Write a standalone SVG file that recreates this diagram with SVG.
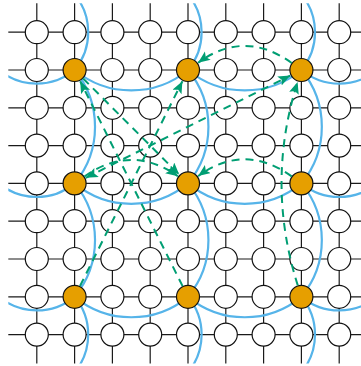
<svg xmlns="http://www.w3.org/2000/svg" width="361" height="366" viewBox="0 0 361 366">
<defs>
<style>
.grid line{stroke:#1a1a1a;stroke-width:1.2}
.n{fill:#fff;stroke:#111;stroke-width:1.2}
.o{fill:#E69F00;stroke:#111;stroke-width:1.2}
.arc path{fill:none;stroke:#56B4E9;stroke-width:2.2}
.fl path{fill:none;stroke:#009E73;stroke-width:2;stroke-dasharray:8 6;marker-end:url(#ah)}
.fl path.both{marker-start:url(#ah)}
</style>
<clipPath id="clip"><rect x="8.3" y="3.3" width="360" height="360.2"/></clipPath>
<marker id="ah" markerUnits="userSpaceOnUse" markerWidth="14" markerHeight="12" refX="12" refY="5" orient="auto-start-reverse">
<path d="M0,0 L12,5 L0,10 L2.5,5 z" fill="#009E73"/>
</marker>
</defs>
<g class="grid" id="grid">
<line x1="8.3" y1="32.2" x2="361" y2="32.2"/>
<line x1="8.3" y1="70" x2="361" y2="70"/>
<line x1="8.3" y1="107.8" x2="361" y2="107.8"/>
<line x1="8.3" y1="145.6" x2="361" y2="145.6"/>
<line x1="8.3" y1="183.4" x2="361" y2="183.4"/>
<line x1="8.3" y1="221.2" x2="361" y2="221.2"/>
<line x1="8.3" y1="259" x2="361" y2="259"/>
<line x1="8.3" y1="296.8" x2="361" y2="296.8"/>
<line x1="8.3" y1="334.6" x2="361" y2="334.6"/>
<line x1="36.8" y1="3.3" x2="36.8" y2="363.5"/>
<line x1="74.6" y1="3.3" x2="74.6" y2="363.5"/>
<line x1="112.4" y1="3.3" x2="112.4" y2="363.5"/>
<line x1="150.2" y1="3.3" x2="150.2" y2="363.5"/>
<line x1="188" y1="3.3" x2="188" y2="363.5"/>
<line x1="225.8" y1="3.3" x2="225.8" y2="363.5"/>
<line x1="263.6" y1="3.3" x2="263.6" y2="363.5"/>
<line x1="301.4" y1="3.3" x2="301.4" y2="363.5"/>
<line x1="339.2" y1="3.3" x2="339.2" y2="363.5"/>
</g>
<g class="arc" id="regions" clip-path="url(#clip)">
<path d="M-1,70 A59.3,59.3 0 0 0 74.6,70 A88.9,88.9 0 0 0 188,70 A88.9,88.9 0 0 0 301.4,70 A59.3,59.3 0 0 0 377,70"/>
<path d="M-1,183.4 A59.3,59.3 0 0 0 74.6,183.4 A88.9,88.9 0 0 0 188,183.4 A88.9,88.9 0 0 0 301.4,183.4 A59.3,59.3 0 0 0 377,183.4"/>
<path d="M-1,296.8 A59.3,59.3 0 0 0 74.6,296.8 A88.9,88.9 0 0 0 188,296.8 A88.9,88.9 0 0 0 301.4,296.8 A59.3,59.3 0 0 0 377,296.8"/>
<path d="M74.6,-5.6 A59.3,59.3 0 0 1 74.6,70 A88.9,88.9 0 0 1 74.6,183.4 A88.9,88.9 0 0 1 74.6,296.8 A59.3,59.3 0 0 1 74.6,372.4"/>
<path d="M188,-5.6 A59.3,59.3 0 0 1 188,70 A88.9,88.9 0 0 1 188,183.4 A88.9,88.9 0 0 1 188,296.8 A59.3,59.3 0 0 1 188,372.4"/>
<path d="M301.4,-5.6 A59.3,59.3 0 0 1 301.4,70 A88.9,88.9 0 0 1 301.4,183.4 A88.9,88.9 0 0 1 301.4,296.8 A59.3,59.3 0 0 1 301.4,372.4"/>
</g>
<g id="nodes">
<g id="r0"><circle class="n" cx="36.8" cy="32.2" r="11.5"/><circle class="n" cx="74.6" cy="32.2" r="11.5"/><circle class="n" cx="112.4" cy="32.2" r="11.5"/><circle class="n" cx="150.2" cy="32.2" r="11.5"/><circle class="n" cx="188" cy="32.2" r="11.5"/><circle class="n" cx="225.8" cy="32.2" r="11.5"/><circle class="n" cx="263.6" cy="32.2" r="11.5"/><circle class="n" cx="301.4" cy="32.2" r="11.5"/><circle class="n" cx="339.2" cy="32.2" r="11.5"/></g>
<g id="r1"><circle class="n" cx="36.8" cy="70" r="11.5"/><circle class="o" id="s11" cx="74.6" cy="70" r="11.5"/><circle class="n" cx="112.4" cy="70" r="11.5"/><circle class="n" cx="150.2" cy="70" r="11.5"/><circle class="o" id="s14" cx="188" cy="70" r="11.5"/><circle class="n" cx="225.8" cy="70" r="11.5"/><circle class="n" cx="263.6" cy="70" r="11.5"/><circle class="o" id="s17" cx="301.4" cy="70" r="11.5"/><circle class="n" cx="339.2" cy="70" r="11.5"/></g>
<g id="r2"><circle class="n" cx="36.8" cy="107.8" r="11.5"/><circle class="n" cx="74.6" cy="107.8" r="11.5"/><circle class="n" cx="112.4" cy="107.8" r="11.5"/><circle class="n" cx="150.2" cy="107.8" r="11.5"/><circle class="n" cx="188" cy="107.8" r="11.5"/><circle class="n" cx="225.8" cy="107.8" r="11.5"/><circle class="n" cx="263.6" cy="107.8" r="11.5"/><circle class="n" cx="301.4" cy="107.8" r="11.5"/><circle class="n" cx="339.2" cy="107.8" r="11.5"/></g>
<g id="r3"><circle class="n" cx="36.8" cy="145.6" r="11.5"/><circle class="n" cx="74.6" cy="145.6" r="11.5"/><circle class="n" cx="112.4" cy="145.6" r="11.5"/><circle class="n" cx="150.2" cy="145.6" r="11.5"/><circle class="n" cx="188" cy="145.6" r="11.5"/><circle class="n" cx="225.8" cy="145.6" r="11.5"/><circle class="n" cx="263.6" cy="145.6" r="11.5"/><circle class="n" cx="301.4" cy="145.6" r="11.5"/><circle class="n" cx="339.2" cy="145.6" r="11.5"/></g>
<g id="r4"><circle class="n" cx="36.8" cy="183.4" r="11.5"/><circle class="o" id="s41" cx="74.6" cy="183.4" r="11.5"/><circle class="n" cx="112.4" cy="183.4" r="11.5"/><circle class="n" cx="150.2" cy="183.4" r="11.5"/><circle class="o" id="s44" cx="188" cy="183.4" r="11.5"/><circle class="n" cx="225.8" cy="183.4" r="11.5"/><circle class="n" cx="263.6" cy="183.4" r="11.5"/><circle class="o" id="s47" cx="301.4" cy="183.4" r="11.5"/><circle class="n" cx="339.2" cy="183.4" r="11.5"/></g>
<g id="r5"><circle class="n" cx="36.8" cy="221.2" r="11.5"/><circle class="n" cx="74.6" cy="221.2" r="11.5"/><circle class="n" cx="112.4" cy="221.2" r="11.5"/><circle class="n" cx="150.2" cy="221.2" r="11.5"/><circle class="n" cx="188" cy="221.2" r="11.5"/><circle class="n" cx="225.8" cy="221.2" r="11.5"/><circle class="n" cx="263.6" cy="221.2" r="11.5"/><circle class="n" cx="301.4" cy="221.2" r="11.5"/><circle class="n" cx="339.2" cy="221.2" r="11.5"/></g>
<g id="r6"><circle class="n" cx="36.8" cy="259" r="11.5"/><circle class="n" cx="74.6" cy="259" r="11.5"/><circle class="n" cx="112.4" cy="259" r="11.5"/><circle class="n" cx="150.2" cy="259" r="11.5"/><circle class="n" cx="188" cy="259" r="11.5"/><circle class="n" cx="225.8" cy="259" r="11.5"/><circle class="n" cx="263.6" cy="259" r="11.5"/><circle class="n" cx="301.4" cy="259" r="11.5"/><circle class="n" cx="339.2" cy="259" r="11.5"/></g>
<g id="r7"><circle class="n" cx="36.8" cy="296.8" r="11.5"/><circle class="o" id="s71" cx="74.6" cy="296.8" r="11.5"/><circle class="n" cx="112.4" cy="296.8" r="11.5"/><circle class="n" cx="150.2" cy="296.8" r="11.5"/><circle class="o" id="s74" cx="188" cy="296.8" r="11.5"/><circle class="n" cx="225.8" cy="296.8" r="11.5"/><circle class="n" cx="263.6" cy="296.8" r="11.5"/><circle class="o" id="s77" cx="301.4" cy="296.8" r="11.5"/><circle class="n" cx="339.2" cy="296.8" r="11.5"/></g>
<g id="r8"><circle class="n" cx="36.8" cy="334.6" r="11.5"/><circle class="n" cx="74.6" cy="334.6" r="11.5"/><circle class="n" cx="112.4" cy="334.6" r="11.5"/><circle class="n" cx="150.2" cy="334.6" r="11.5"/><circle class="n" cx="188" cy="334.6" r="11.5"/><circle class="n" cx="225.8" cy="334.6" r="11.5"/><circle class="n" cx="263.6" cy="334.6" r="11.5"/><circle class="n" cx="301.4" cy="334.6" r="11.5"/><circle class="n" cx="339.2" cy="334.6" r="11.5"/></g>
</g>
<g class="fl" id="connectors">
<path d="M291.7,63 Q244.7,29 198.1,62.7"/>
<path d="M291.7,176.4 Q244.7,142.4 198.1,176.1"/>
<path d="M297.8,285.4 Q265.4,183.4 297.6,81.9"/>
<path d="M80,286 L182.4,81.2"/>
<path d="M182.6,286.1 L80.2,81.2"/>
<path class="both" d="M85.8,177.8 L290.2,75.6"/>
<path d="M84.4,176.5 Q131.3,143.4 177.8,176.2"/>
<path d="M83.1,78.5 L179.2,174.6"/>
</g>
</svg>
